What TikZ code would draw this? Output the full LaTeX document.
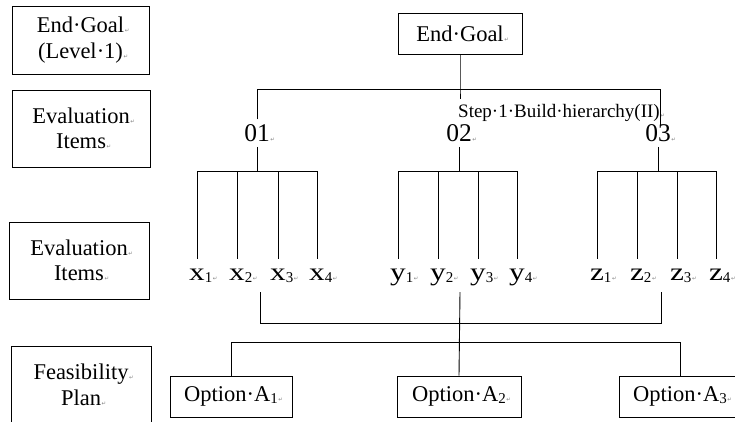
\documentclass[tikz,border=0pt]{standalone}
\usepackage{fontspec}
\setmainfont{Liberation Serif}
\newfontfamily\markfont{DejaVu Sans}
% paragraph mark and space mark as shown by the word processor
\newcommand\pmk{\rlap{\hspace{0.6pt}{\markfont\fontsize{5.5}{5.5}\selectfont\color{gray}↵}}}
\newcommand\sd{·}
\newcommand\subs[1]{\raisebox{-2pt}{\fontsize{15}{15}\selectfont #1}}
\newcommand\wide[1]{\scalebox{1.25}[1]{#1}}
\tikzset{
  conn/.style={line width=0.9pt},
  sidebox/.style={draw, line width=1pt, inner sep=0pt, align=center,
    font=\fontsize{22.5}{25.5}\selectfont},
  optbox/.style={draw, line width=1pt, inner sep=0pt, minimum height=41pt,
    font=\fontsize{22.5}{25.5}\selectfont},
  num/.style={anchor=base, inner xsep=0pt, inner ysep=5pt,
    font=\fontsize{25.5}{25.5}\selectfont},
  var/.style={anchor=base, inner sep=0pt, text height=21pt, text depth=0pt,
    font=\fontsize{25}{25}\selectfont},
  steplabel/.style={anchor=base west, inner xsep=0pt, inner ysep=4.5pt,
    font=\fontsize{19}{19}\selectfont}
}
\begin{document}
\begin{tikzpicture}[x=1pt, y=-1pt]
\useasboundingbox (0,0) rectangle (735,421);
\clip (0,0) rectangle (735,421);

% level captions on the left
\node[sidebox, minimum width=137pt, minimum height=68pt] (cap1) at (80.5,40) {End\sd Goal\pmk\\(Level\sd 1)\pmk};
\node[sidebox, minimum width=138pt, minimum height=77pt] (cap2) at (81,128.5) {Evaluation\pmk\\Items\pmk};
\node[sidebox, minimum width=140pt, minimum height=77pt] (cap3) at (79,260.5) {Evaluation\pmk\\Items\pmk};
\node[sidebox, minimum width=140pt, minimum height=78pt] (cap4) at (81,385) {Feasibility\pmk\\Plan\pmk};

% goal
\node[optbox, minimum width=124pt] (goal) at (460,33.5) {End\sd Goal\pmk};
\node[steplabel] (step) at (458,117) {Step\sd 1\sd Build\sd hierarchy(II)\pmk};

% evaluation items
\node[num] (n01) at (257,141.5) {01\pmk};
\node[num] (n02) at (459,141.5) {02\pmk};
\node[num] (n03) at (658,141.5) {03\pmk};

% sub-items
\node[var] (x1) at (197,280) {\wide{x}\rlap{\subs{1}\pmk}};
\node[var] (x2) at (237,280) {\wide{x}\rlap{\subs{2}\pmk}};
\node[var] (x3) at (278,280) {\wide{x}\rlap{\subs{3}\pmk}};
\node[var] (x4) at (317,280) {\wide{x}\rlap{\subs{4}\pmk}};
\node[var] (y1) at (398,280) {\wide{y}\rlap{\subs{1}\pmk}};
\node[var] (y2) at (438,280) {\wide{y}\rlap{\subs{2}\pmk}};
\node[var] (y3) at (478,280) {\wide{y}\rlap{\subs{3}\pmk}};
\node[var] (y4) at (517,280) {\wide{y}\rlap{\subs{4}\pmk}};
\node[var] (z1) at (597,280) {\wide{z}\rlap{\subs{1}\pmk}};
\node[var] (z2) at (637,280) {\wide{z}\rlap{\subs{2}\pmk}};
\node[var] (z3) at (677,280) {\wide{z}\rlap{\subs{3}\pmk}};
\node[var] (z4) at (716,280) {\wide{z}\rlap{\subs{4}\pmk}};

% options
\node[optbox, minimum width=122pt] (opt1) at (231,396.5) {Option\sd A\subs{1}\pmk};
\node[optbox, minimum width=124pt] (opt2) at (459,396.5) {Option\sd A\subs{2}\pmk};
\node[optbox, minimum width=122pt] (opt3) at (680,396.5) {Option\sd A\subs{3}\pmk};

% junction coordinates
\coordinate (topbar) at (460,89);
\coordinate (g1) at (257,171);
\coordinate (g2) at (459,171);
\coordinate (g3) at (658,171);
\coordinate (b1) at (260,292);
\coordinate (b2) at (460,292);
\coordinate (b3) at (661,292);
\coordinate (mergebar) at (460,323);
\coordinate (optbar) at (460,342);

% goal to evaluation items
\draw[conn] (goal.south) -- (topbar) -- (step.north -| topbar);
\draw[conn] (n01.north) -- (n01.north |- topbar) -- ([xshift=2pt]n03.north |- topbar) -- ([xshift=2pt,yshift=-6pt]n03.north);

% evaluation items to sub-items
\draw[conn] (n01.south) -- (g1);
\draw[conn] (x1.north) -- (x1 |- g1) -- (x4 |- g1) -- (x4.north);
\draw[conn] (x2.north) -- (x2 |- g1);
\draw[conn] (x3.north) -- (x3 |- g1);
\draw[conn] (n02.south) -- (g2);
\draw[conn] (y1.north) -- (y1 |- g2) -- (y4 |- g2) -- (y4.north);
\draw[conn] (y2.north) -- (y2 |- g2);
\draw[conn] (y3.north) -- (y3 |- g2);
\draw[conn] (n03.south) -- (g3);
\draw[conn] (z1.north) -- (z1 |- g3) -- (z4 |- g3) -- (z4.north);
\draw[conn] (z2.north) -- (z2 |- g3);
\draw[conn] (z3.north) -- (z3 |- g3);

% sub-items merged towards the options
\draw[conn] (b1) -- (b1 |- mergebar) -- (b3 |- mergebar) -- (b3);
\draw[conn] (b2) -- (opt2.north);
\draw[conn] (opt1.north) -- (opt1.north |- optbar) -- (opt3.north |- optbar) -- (opt3.north);
\end{tikzpicture}
\end{document}
